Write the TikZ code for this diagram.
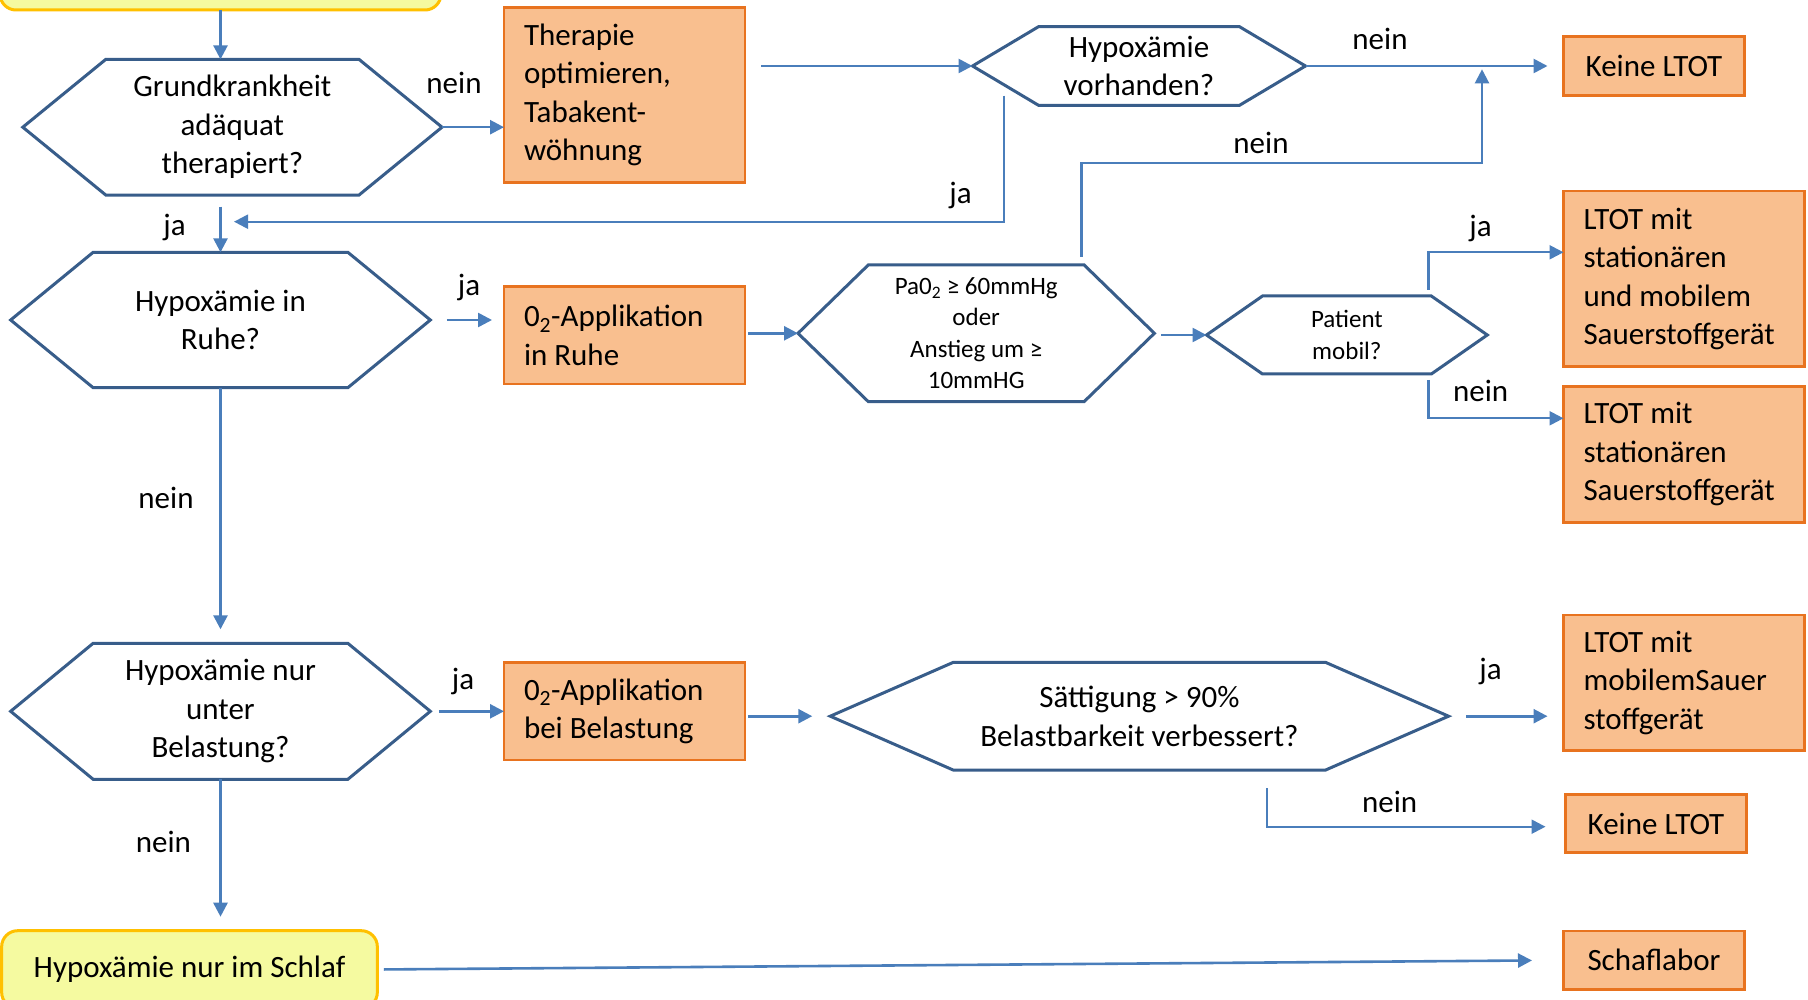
\documentclass[tikz,border=0pt]{standalone}
\usepackage{fontspec}
\setmainfont{Carlito}
\usetikzlibrary{arrows.meta,calc}
\definecolor{hexc}{HTML}{385D8A}
\definecolor{arrc}{HTML}{4A7EBB}
\definecolor{orfill}{HTML}{F9BF8F}
\definecolor{ordraw}{HTML}{E8731F}
\definecolor{yefill}{HTML}{F5FAA0}
\definecolor{yedraw}{HTML}{FFC000}
\newcommand\hexdraw[2]{\draw[hexline] (#1.west) -- ([xshift=#2pt]#1.north west) -- ([xshift=-#2pt]#1.north east) -- (#1.east) -- ([xshift=-#2pt]#1.south east) -- ([xshift=#2pt]#1.south west) -- cycle;}
\tikzset{
  base/.style={font=\fontsize{31}{38.5}\selectfont, inner sep=0pt, outer sep=0pt},
  hexn/.style={base, align=center},
  hexs/.style={base, align=center, font=\fontsize{25}{31.5}\selectfont},
  hexline/.style={draw=hexc, line width=3pt, line join=miter},
  obox/.style={base, draw=ordraw, fill=orfill, line width=2.5pt, align=flush left, text width=201pt, inner xsep=20pt},
  obc/.style={base, draw=ordraw, fill=orfill, line width=2.5pt, align=center},
  ybox/.style={base, draw=yedraw, fill=yefill, line width=3pt, rounded corners=16pt, align=center},
  lab/.style={base},
  arr/.style={draw=arrc, line width=2.6pt, -{Triangle[length=14pt,width=14pt]}},
}
\begin{document}
\begin{tikzpicture}[x=1pt,y=-1pt]
\useasboundingbox (0,0) rectangle (1808,1000);
\clip (0,0) rectangle (1808,1000);
\fill[white] (0,0) rectangle (1808,1000);
% nodes
\node[ybox, minimum width=441pt, minimum height=80pt] (top) at (220.5,-30) {};
\node[hexn, minimum width=419.2pt, minimum height=135.7pt] (h1) at (232.4,127.2) {Grundkrankheit\\adäquat\\therapiert?};
\node[obox, minimum height=175.4pt] (ther) at (624.5,95) {Therapie\\optimieren,\\Tabakent-\\wöhnung};
\node[hexn, minimum width=333pt, minimum height=78.6pt] (h3) at (1139,66) {Hypoxämie\\vorhanden?};
\node[obc, minimum width=181pt, minimum height=58.6pt] (k1) at (1654,66) {Keine LTOT};
\node[hexn, minimum width=419.7pt, minimum height=135.4pt] (h2) at (220.5,320) {Hypoxämie in\\Ruhe?};
\node[obox, minimum height=97.3pt] (ruhe) at (624.5,335.3) {0\textsubscript{2}-Applikation\\in Ruhe};
\node[hexs, minimum width=356.4pt, minimum height=136.7pt] (pa) at (976.2,333.3) {Pa0\textsubscript{2} ≥ 60mmHg\\oder\\Anstieg um ≥\\10mmHG};
\node[hexs, minimum width=280.8pt, minimum height=78pt] (pm) at (1346.9,335) {Patient\\mobil?};
\node[obox, minimum height=175.7pt] (lsm) at (1684,278.8) {LTOT mit\\stationären\\und mobilem\\Sauerstoffgerät};
\node[obox, minimum height=136pt] (ls) at (1684,454.3) {LTOT mit\\stationären\\Sauerstoffgerät};
\node[hexn, minimum width=419.7pt, minimum height=136pt] (h4) at (220.5,711.3) {Hypoxämie nur\\unter\\Belastung?};
\node[obox, minimum height=97.3pt] (bel) at (624.5,711.3) {0\textsubscript{2}-Applikation\\bei Belastung};
\node[hexn, minimum width=618.3pt, minimum height=107.7pt] (sat) at (1139.4,716.2) {Sättigung > 90\%\\Belastbarkeit verbessert?};
\node[obox, minimum height=135.7pt] (lm) at (1684,682.8) {LTOT mit\\mobilemSauer\\stoffgerät};
\node[obc, minimum width=181pt, minimum height=58.4pt] (k2) at (1656,823.5) {Keine LTOT};
\node[obc, minimum width=181pt, minimum height=58.3pt] (sl) at (1654,960.2) {Schaflabor};
\node[ybox, minimum width=375.7pt, minimum height=77.6pt] (schlaf) at (189.5,969.5) {Hypoxämie nur im Schlaf};
% hexagon outlines
\hexdraw{h1}{83}
\hexdraw{h3}{66}
\hexdraw{h2}{82.5}
\hexdraw{pa}{70.3}
\hexdraw{pm}{56}
\hexdraw{h4}{82.5}
\hexdraw{sat}{123}
% junction coordinates
\coordinate (jn1) at (234,221.7);
\coordinate (jn2) at (1482,69.3);
% connectors
\draw[arr] (top.south) -- (top.south |- h1.north);
\draw[arr] (h1.east) -- (h1.east -| ther.west);
\draw[arr, shorten <=16pt] (ther.east |- h3.west) -- (h3.west);
\draw[arr, shorten >=16pt] (h3.east) -- (k1.west);
\draw[arr, line width=2.2pt] ($(h3.south west)+(31.4,-9.6)$) |- (jn1);
\draw[arr, shorten <=11.7pt] (h1.south -| h2.north) -- (h2.north);
\draw[arr, shorten <=16.6pt, shorten >=12pt] (h2.east) -- (h2.east -| ruhe.west);
\draw[arr, shorten <=3pt] (ruhe.east |- pa.west) -- (pa.west);
\draw[arr, shorten <=7pt] (pa.east |- pm.west) -- (pm.west);
\draw[arr, line width=2.2pt] ($(pa.north east)+(-72.9,-8)$) -- ++(0,-94.3) -| (jn2);
\draw[arr, line width=2.2pt] ($(pm.north east)+(-58.9,-6)$) |- ($(lsm.west)+(0,-26.5)$);
\draw[arr, line width=2.2pt] ($(pm.south east)+(-58.9,6)$) |- ($(ls.west)+(0,-36)$);
\draw[arr, shorten >=14pt] (h2.south) -- (h4.north);
\draw[arr, shorten <=8.6pt] (h4.east) -- (h4.east -| bel.west);
\draw[arr, shorten <=3pt, shorten >=18pt] (bel.east |- sat.west) -- (sat.west);
\draw[arr, shorten <=17.5pt, shorten >=16pt] (sat.east) -- (sat.east -| lm.west);
\draw[arr, line width=2.2pt, shorten >=20pt] ($(sat.south east)+(-181.8,18.3)$) |- ($(k2.west)+(0,3.2)$);
\draw[arr, shorten >=14pt] (h4.south) -- (h4.south |- schlaf.north);
\draw[arr, shorten <=6.6pt, shorten >=31.5pt] (schlaf.east) -- (sl.west);
% labels
\node[lab] (l1) at (454,83) {nein};
\node[lab] (l2) at (174.5,227) {ja};
\node[lab] (l3) at (960.5,195) {ja};
\node[lab] (l4) at (1380,39.3) {nein};
\node[lab] (l5) at (1261,143) {nein};
\node[lab] (l6) at (469,287) {ja};
\node[lab] (l7) at (1480.6,228.3) {ja};
\node[lab] (l8) at (1480.6,390.7) {nein};
\node[lab] (l9) at (166,498) {nein};
\node[lab] (l10) at (463,681.7) {ja};
\node[lab] (l11) at (1490.6,671.7) {ja};
\node[lab] (l12) at (1389.7,801.7) {nein};
\node[lab] (l13) at (163.4,841.7) {nein};
\end{tikzpicture}
\end{document}
